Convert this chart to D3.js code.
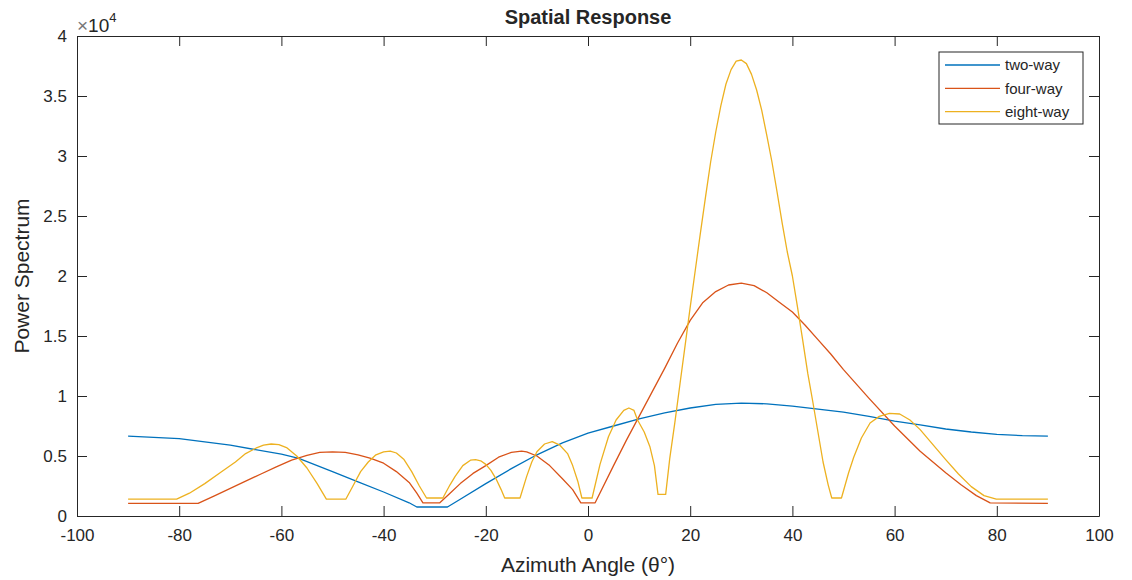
<!DOCTYPE html>
<html>
<head>
  <meta charset="utf-8">
  <title>Spatial Response</title>
  <script src="https://cdnjs.cloudflare.com/ajax/libs/d3/7.8.5/d3.min.js"></script>
  <style>
    body { margin: 0; background: #fff; }
    text { font-family: "Liberation Sans", Arial, sans-serif; fill: #262626; }
  </style>
</head>
<body>
<script>
// data (power in units of 1e4)
var twoWayAngle = [-90, -80, -70, -60, -56.6, -50, -45, -40, -35, -33.5, -27.5, -25, -20, -15, -10, -5, 0, 5, 10, 15, 20, 25, 30, 35, 40, 45, 50, 55, 60, 65, 70, 75, 80, 85, 90];
var twoWayPower = [0.665, 0.645, 0.59, 0.515, 0.48, 0.37, 0.285, 0.2, 0.11, 0.075, 0.075, 0.14, 0.27, 0.395, 0.51, 0.61, 0.69, 0.75, 0.81, 0.86, 0.9, 0.93, 0.94, 0.935, 0.915, 0.89, 0.865, 0.83, 0.79, 0.76, 0.725, 0.7, 0.68, 0.67, 0.665];

var fourWayAngle = [-90, -76.3, -73, -70, -67, -64, -61, -58, -55, -52.5, -50, -47.5, -45, -42.5, -40, -37.5, -35, -33.5, -32.3, -29, -27, -25, -22.5, -20, -17.5, -15, -13, -12, -10, -7.5, -5, -3, -1.4, 1.4, 5, 7.5, 10, 12.5, 15, 17.5, 20, 22.5, 25, 27.5, 30, 32.5, 35, 37.5, 40, 42.5, 45, 47.5, 50, 55, 60, 65, 70, 73, 76, 78.7, 90];
var fourWayPower = [0.105, 0.105, 0.17, 0.23, 0.29, 0.35, 0.41, 0.465, 0.505, 0.53, 0.535, 0.53, 0.51, 0.48, 0.44, 0.37, 0.28, 0.19, 0.11, 0.11, 0.19, 0.27, 0.355, 0.42, 0.49, 0.53, 0.54, 0.535, 0.5, 0.42, 0.31, 0.22, 0.11, 0.11, 0.42, 0.63, 0.83, 1.03, 1.23, 1.44, 1.63, 1.78, 1.87, 1.925, 1.94, 1.92, 1.86, 1.78, 1.7, 1.59, 1.47, 1.35, 1.22, 0.98, 0.75, 0.54, 0.36, 0.26, 0.17, 0.11, 0.105];

var eightWayAngle = [-90, -80.5, -78, -75, -72, -69, -67, -65, -63.5, -62, -60.5, -59, -57, -55, -53, -51.2, -47.4, -46, -44.5, -43, -41.5, -40, -38.7, -37.5, -36, -34.5, -33, -31.6, -28.4, -27, -26, -24.5, -23, -22, -21, -20, -19, -18, -17, -16.3, -13.3, -12, -11, -10, -8.5, -7, -5.5, -4, -3, -2, -1.2, 0.8, 2.35, 4, 5.5, 7, 8, 9, 9.7, 11, 12.1, 13, 13.7, 15.2, 16, 17, 18, 19, 20, 21, 22, 23, 24, 25, 26, 27, 28, 29, 30, 31, 32, 33, 34, 35, 36, 37, 38, 39, 40, 41, 42, 43, 44, 45, 46, 47, 47.7, 49.6, 51, 52, 53.5, 55.2, 57, 59, 61, 63, 65, 67, 70, 72.5, 75, 77.5, 79.9, 90];
var eightWayPower = [0.14, 0.14, 0.19, 0.27, 0.36, 0.45, 0.52, 0.565, 0.59, 0.6, 0.595, 0.57, 0.5, 0.4, 0.27, 0.14, 0.14, 0.25, 0.37, 0.45, 0.51, 0.535, 0.54, 0.525, 0.47, 0.37, 0.25, 0.15, 0.15, 0.26, 0.33, 0.42, 0.465, 0.47, 0.46, 0.43, 0.38, 0.31, 0.22, 0.15, 0.15, 0.33, 0.45, 0.535, 0.6, 0.62, 0.59, 0.52, 0.42, 0.29, 0.15, 0.15, 0.43, 0.66, 0.8, 0.88, 0.9, 0.88, 0.8, 0.7, 0.58, 0.42, 0.18, 0.18, 0.48, 0.78, 1.1, 1.42, 1.74, 2.05, 2.36, 2.66, 2.95, 3.2, 3.42, 3.6, 3.72, 3.79, 3.8, 3.77, 3.68, 3.55, 3.38, 3.17, 2.95, 2.7, 2.44, 2.2, 2, 1.74, 1.47, 1.19, 0.95, 0.7, 0.45, 0.26, 0.15, 0.15, 0.36, 0.49, 0.65, 0.775, 0.83, 0.855, 0.85, 0.8, 0.72, 0.62, 0.47, 0.35, 0.245, 0.17, 0.14, 0.14];

var seriesNames = ["two-way", "four-way", "eight-way"];
var seriesColors = ["#0072BD", "#D95319", "#EDB120"];
var xTicks = [-100, -80, -60, -40, -20, 0, 20, 40, 60, 80, 100];
var yTicks = [0, 0.5, 1, 1.5, 2, 2.5, 3, 3.5, 4];

var width = 1132, height = 580;
var mLeft = 77, mRight = 1099, mTop = 36, mBottom = 516;

var svg = d3.select("body").append("svg").attr("width", width).attr("height", height);

var x = d3.scaleLinear().domain([-100, 100]).range([mLeft, mRight]);
var y = d3.scaleLinear().domain([0, 4]).range([mBottom, mTop]);

var series = [
  d3.zip(twoWayAngle, twoWayPower),
  d3.zip(fourWayAngle, fourWayPower),
  d3.zip(eightWayAngle, eightWayPower)
];

var line = d3.line()
  .x(function(d) { return x(d[0]); })
  .y(function(d) { return y(d[1]); });

svg.selectAll("path.series")
  .data(series)
  .enter().append("path")
  .attr("class", "series")
  .attr("d", line)
  .attr("fill", "none")
  .attr("stroke", function(d, i) { return seriesColors[i]; })
  .attr("stroke-width", 1.3)
  .attr("stroke-linejoin", "round");

// axes, ticks pointing inward like matlab
function styleAxis(g) {
  g.selectAll("path.domain").attr("stroke", "#262626");
  g.selectAll(".tick line").attr("stroke", "#262626");
  g.selectAll(".tick text").style("font-size", "17px").attr("fill", "#262626");
}
var fmt = function(d) { return String(d); };

svg.append("g").attr("transform", "translate(0," + mBottom + ")")
  .call(d3.axisBottom(x).tickValues(xTicks).tickSizeInner(-10).tickSizeOuter(0).tickPadding(13).tickFormat(fmt))
  .call(styleAxis);
svg.append("g").attr("transform", "translate(0," + mTop + ")")
  .call(d3.axisTop(x).tickValues(xTicks).tickSizeInner(-10).tickSizeOuter(0).tickFormat(""))
  .call(styleAxis);
svg.append("g").attr("transform", "translate(" + mLeft + ",0)")
  .call(d3.axisLeft(y).tickValues(yTicks).tickSizeInner(-10).tickSizeOuter(0).tickPadding(10).tickFormat(fmt))
  .call(styleAxis);
svg.append("g").attr("transform", "translate(" + mRight + ",0)")
  .call(d3.axisRight(y).tickValues(yTicks).tickSizeInner(-10).tickSizeOuter(0).tickFormat(""))
  .call(styleAxis);

// exponent
var ex = svg.append("text").attr("x", mLeft).attr("y", 32).style("font-size", "19px");
ex.append("tspan").attr("fill", "#777").text("\u00d7");
ex.append("tspan").text("10");
ex.append("tspan").attr("dy", -10).style("font-size", "13px").text("4");

svg.append("text")
  .attr("x", (mLeft + mRight) / 2).attr("y", 24)
  .attr("text-anchor", "middle")
  .style("font-size", "20px").style("font-weight", "bold")
  .text("Spatial Response");

svg.append("text")
  .attr("x", (mLeft + mRight) / 2).attr("y", 572)
  .attr("text-anchor", "middle")
  .style("font-size", "21px")
  .text("Azimuth Angle (\u03b8\u00b0)");

svg.append("text")
  .attr("transform", "translate(29," + (mTop + mBottom) / 2 + ") rotate(-90)")
  .attr("text-anchor", "middle")
  .style("font-size", "21px")
  .text("Power Spectrum");

// legend
var lg = svg.append("g").attr("transform", "translate(939,52)");
lg.append("rect").attr("width", 144).attr("height", 72)
  .attr("fill", "#fff").attr("stroke", "#262626").attr("stroke-width", 1);
seriesNames.forEach(function(name, i) {
  var yy = 13 + i * 23.3;
  lg.append("line").attr("x1", 6).attr("x2", 61).attr("y1", yy).attr("y2", yy)
    .attr("stroke", seriesColors[i]).attr("stroke-width", 1.3);
  lg.append("text").attr("x", 66).attr("y", yy).attr("dy", "0.35em")
    .style("font-size", "15px").text(name);
});
</script>
</body>
</html>
